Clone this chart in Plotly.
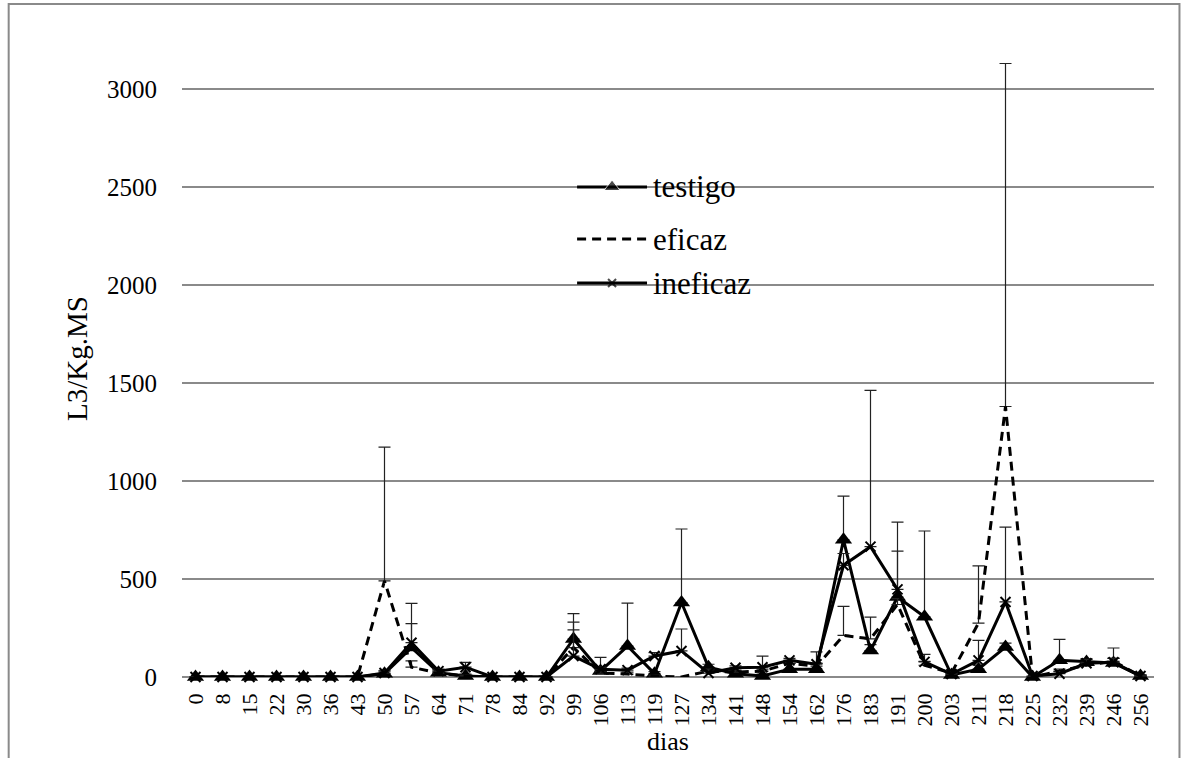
import plotly.graph_objects as go

dias = [0, 8, 15, 22, 30, 36, 43, 50, 57, 64, 71, 78, 84, 92, 99, 106, 113, 119,
        127, 134, 141, 148, 154, 162, 176, 183, 191, 200, 203, 211, 218, 225, 232,
        239, 246, 256]
dias_labels = [str(d) for d in dias]

testigo = [0, 0, 0, 0, 0, 0, 0, 17, 150, 22, 5, 0, 0, 0, 194, 30, 158, 17,
           380, 50, 17, 5, 40, 40, 700, 135, 408, 307, 10, 40, 153, 0, 85,
           77, 72, 5]
testigo_err = [0, 0, 0, 0, 0, 0, 0, 15, 122, 15, 10, 0, 0, 0, 129, 70, 219, 10,
               375, 15, 15, 10, 30, 30, 223, 30, 382, 438, 5, 20, 20, 0, 107,
               15, 76, 5]

eficaz = [0, 0, 0, 0, 0, 0, 0, 490, 50, 20, 5, 0, 0, 0, 150, 20, 15, 5,
          0, 30, 25, 30, 70, 55, 212, 195, 370, 60, 20, 275, 1380, 0, 30,
          60, 80, 5]
eficaz_err = [0, 0, 0, 0, 0, 0, 0, 683, 32, 10, 5, 0, 0, 0, 90, 10, 10, 5,
              0, 10, 10, 10, 15, 15, 148, 110, 30, 20, 5, 292, 1750, 0, 10,
              15, 15, 5]

ineficaz = [0, 0, 0, 0, 0, 0, 0, 20, 175, 30, 50, 0, 0, 0, 107, 40, 35, 107,
            133, 20, 47, 50, 85, 65, 570, 665, 447, 77, 15, 85, 383, 5, 17,
            70, 75, 5]
ineficaz_err = [0, 0, 0, 0, 0, 0, 0, 10, 201, 10, 25, 0, 0, 0, 173, 10, 10, 17,
                112, 10, 10, 57, 10, 63, 60, 797, 195, 38, 5, 102, 382, 0, 10,
                20, 20, 5]

FONT = "Liberation Serif"
GRID = "#8a8a8a"

fig = go.Figure()

def err(vals):
    return dict(type="data", array=vals, arrayminus=[0] * len(vals),
                symmetric=False, color="#222222", thickness=1.2, width=6)

fig.add_trace(go.Scatter(
    x=dias_labels, y=testigo, name="testigo", mode="lines+markers",
    line=dict(color="black", width=3),
    marker=dict(symbol="triangle-up", size=15, color="black"),
    error_y=err(testigo_err), cliponaxis=False, showlegend=False))

fig.add_trace(go.Scatter(
    x=dias_labels, y=eficaz, name="eficaz", mode="lines",
    line=dict(color="black", width=3, dash="9px,6px"),
    error_y=err(eficaz_err), cliponaxis=False, showlegend=False))

fig.add_trace(go.Scatter(
    x=dias_labels, y=ineficaz, name="ineficaz", mode="lines+markers",
    line=dict(color="black", width=3),
    marker=dict(symbol="x-thin", size=10, color="black",
                line=dict(color="black", width=2)),
    error_y=err(ineficaz_err), cliponaxis=False, showlegend=False))

# custom legend (overlay axes in plot-fraction coordinates)
leg_names = ["testigo", "eficaz", "ineficaz"]
PL, PR, PT, PB = 181.5, 1154.5, 40, 677
W, H = PR - PL, PB - PT
def px_x(p):
    return (p - PL) / W
def px_y(p):
    return (PB - p) / H
leg_y = [px_y(187), px_y(239), px_y(283)]
lx0, lx1 = px_x(577), px_x(647)
lxm = (lx0 + lx1) / 2
styles = [
    dict(line=dict(color="black", width=3),
         marker=dict(symbol="triangle-up", size=[0, 14, 0], color="black")),
    dict(line=dict(color="black", width=3, dash="9px,6px"),
         marker=dict(size=[0, 0, 0], color="black")),
    dict(line=dict(color="black", width=3),
         marker=dict(symbol="x-thin", size=[0, 8, 0], color="black",
                     line=dict(color="black", width=2))),
]
for name, yy, st in zip(leg_names, leg_y, styles):
    fig.add_trace(go.Scatter(
        x=[lx0, lxm, lx1], y=[yy, yy, yy], mode="lines+markers",
        xaxis="x2", yaxis="y2", showlegend=False, hoverinfo="skip", **st))
    fig.add_annotation(x=lx1 + 0.004, y=yy, xref="paper", yref="paper",
                       text=name, showarrow=False, xanchor="left",
                       yanchor="middle",
                       font=dict(family=FONT, size=31, color="black"))

# outer chart border
fig.add_shape(type="rect", xref="paper", yref="paper",
              x0=px_x(8), x1=px_x(1180), y0=px_y(790), y1=px_y(4),
              line=dict(color=GRID, width=2), fillcolor="rgba(0,0,0,0)",
              layer="below")

fig.update_layout(
    width=1183, height=758,
    margin=dict(l=PL, r=1183 - PR, t=PT, b=758 - PB),
    paper_bgcolor="white", plot_bgcolor="white",
    font=dict(family=FONT, color="black"),
    showlegend=False,
    xaxis=dict(
        type="category", categoryorder="array", categoryarray=dias_labels,
        range=[-0.5, len(dias) - 0.5], tickangle=-90, automargin=False,
        tickfont=dict(family=FONT, size=22, color="black"),
        showgrid=False, showline=False, zeroline=False, ticks="",
        ticklabelstandoff=11,
        title=dict(text="dias", font=dict(family=FONT, size=26, color="black"),
                   standoff=6)),
    yaxis=dict(
        range=[0, 3250], tick0=0, dtick=500, automargin=False,
        tickfont=dict(family=FONT, size=25, color="black"),
        showgrid=True, gridcolor=GRID, gridwidth=2,
        zeroline=True, zerolinecolor=GRID, zerolinewidth=2,
        showline=False, ticks="", ticklabelstandoff=24,
        title=dict(text="L3/Kg.MS", font=dict(family=FONT, size=29, color="black"),
                   standoff=10)),
    xaxis2=dict(overlaying="x", range=[0, 1], visible=False, fixedrange=True),
    yaxis2=dict(overlaying="y", range=[0, 1], visible=False, fixedrange=True),
)

fig.write_html("out.html")
